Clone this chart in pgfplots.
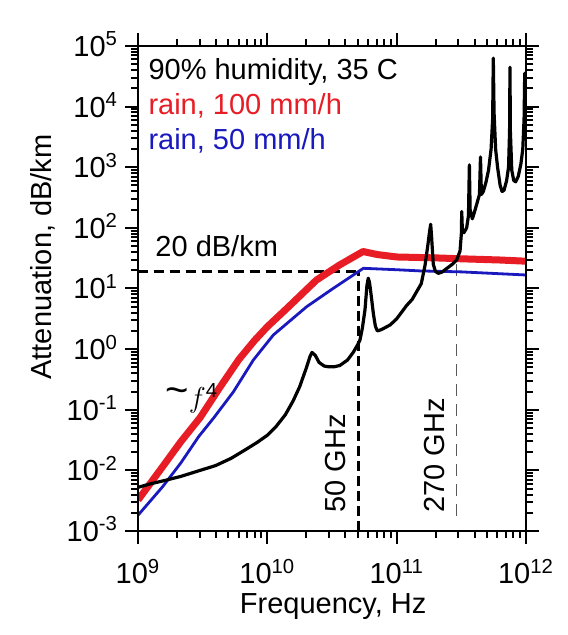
\documentclass[border=0pt]{standalone}
\usepackage{fontspec}
\setmainfont{Liberation Sans}
\usepackage{pgfplots}
\pgfplotsset{compat=1.18}
\definecolor{cred}{RGB}{232,28,36}
\definecolor{cblue}{RGB}{25,25,190}
\newcommand{\lbl}{\fontsize{14.5}{17}\selectfont}
\begin{document}
\begin{tikzpicture}
\begin{axis}[
  at={(0pt,0pt)}, anchor=south west,
  scale only axis, width=194pt, height=242.5pt,
  xmode=log, ymode=log,
  xmin=1e9, xmax=1e12, ymin=1e-3, ymax=1e5,
  tick align=outside,
  major tick length=6.5pt, minor tick length=3.5pt,
  tick style={black, line width=1pt},
  xtick={1e9,1e10,1e11,1e12},
  xticklabels={10\textsuperscript{9},10\textsuperscript{10},10\textsuperscript{11},10\textsuperscript{12}},
  minor xtick={2e9,3e9,4e9,5e9,6e9,7e9,8e9,9e9,2e10,3e10,4e10,5e10,6e10,7e10,8e10,9e10,2e11,3e11,4e11,5e11,6e11,7e11,8e11,9e11},
  ytick={1e-3,1e-2,1e-1,1,1e1,1e2,1e3,1e4,1e5},
  yticklabels={10\textsuperscript{-3},10\textsuperscript{-2},10\textsuperscript{-1},10\textsuperscript{0},10\textsuperscript{1},10\textsuperscript{2},10\textsuperscript{3},10\textsuperscript{4},10\textsuperscript{5}},
  minor ytick={2e-3,3e-3,4e-3,5e-3,6e-3,7e-3,8e-3,9e-3,2e-2,3e-2,4e-2,5e-2,6e-2,7e-2,8e-2,9e-2,0.2,0.3,0.4,0.5,0.6,0.7,0.8,0.9,2,3,4,5,6,7,8,9,20,30,40,50,60,70,80,90,200,300,400,500,600,700,800,900,2e3,3e3,4e3,5e3,6e3,7e3,8e3,9e3,2e4,3e4,4e4,5e4,6e4,7e4,8e4,9e4},
  tick label style={font=\lbl},
  xticklabel style={anchor=base, yshift=-20pt},
  yticklabel style={anchor=base east, yshift=-5.2pt},
  xlabel={Frequency, Hz},
  xlabel style={font=\lbl, at={(axis description cs:0.503,-0.171)}, anchor=base, inner sep=0pt},
  ylabel={Attenuation, dB/km},
  ylabel style={font=\lbl, at={(axis description cs:-0.224,0.565)}, anchor=base, inner sep=0pt},
]
% dashed guides
\addplot[black, line width=1.2pt, dash pattern=on 5pt off 3pt] coordinates {(1e9,19) (5.05e10,19)};
\addplot[black, line width=1.2pt, dash pattern=on 5pt off 2.5pt] coordinates {(5.05e10,1e-3) (5.05e10,19)};
\addplot[black!65, line width=0.7pt, dash pattern=on 6pt off 4pt] coordinates {(2.9e11,1.8e-3) (2.9e11,33)};
% rain 100 mm/h
\addplot[cred, line width=3.5pt, line join=round] coordinates {
(1e9,3.24e-3) (1.549e9,1.148e-2) (2.138e9,2.951e-2) (3.020e9,7.413e-2) (4.266e9,0.2291)
(6.026e9,0.6761) (7.943e9,1.380) (1e10,2.344) (1.413e10,4.677) (2.399e10,13.80)
(3.631e10,24.55) (5.495e10,40.74) (7.079e10,36.31) (1e11,33.11) (1.995e11,32.0)
(3.162e11,30.9) (6.310e11,29.5) (1e12,28.2)};
% rain 50 mm/h
\addplot[cblue, line width=1.4pt, line join=round] coordinates {
(1e9,1.82e-3) (1.549e9,5.37e-3) (2.138e9,1.318e-2) (2.951e9,3.631e-2) (3.828e9,7.228e-2)
(5.470e9,0.1982) (7.798e9,0.6622) (1.112e10,1.710) (2.014e10,5.012) (3.236e10,10.07)
(5.521e10,21.53) (1e11,20.4) (1.514e11,19.5) (3.162e11,18.8) (1e12,16.7)};
% humidity
\addplot[black, line width=1.6pt, line join=round] coordinates {
(1e9,5.25e-3) (1.259e9,6.03e-3) (1.585e9,6.76e-3) (2.138e9,7.94e-3) (2.818e9,9.55e-3)
(3.981e9,1.20e-2) (5.248e9,1.58e-2) (6.761e9,2.19e-2) (8.318e9,2.88e-2) (1e10,3.80e-2)
(1.175e10,5.37e-2) (1.380e10,8.32e-2) (1.585e10,0.141) (1.778e10,0.240) (1.995e10,0.479)
(2.138e10,0.759) (2.213e10,0.881) (2.344e10,0.794) (2.512e10,0.603) (2.754e10,0.525)
(2.951e10,0.513) (3.311e10,0.513) (3.631e10,0.537) (4.169e10,0.661) (4.624e10,0.891)
(5.012e10,1.20) (5.200e10,1.41) (5.433e10,2.24) (5.689e10,4.47) (5.888e10,11.2)
(6.026e10,14.8) (6.166e10,12.6) (6.383e10,7.08) (6.607e10,3.80) (6.839e10,2.40)
(7.079e10,2.00) (7.586e10,2.09) (8.913e10,2.51) (1e11,3.16) (1.194e11,5.25)
(1.318e11,6.61) (1.429e11,8.91) (1.549e11,12.0) (1.656e11,24.0) (1.738e11,50.1)
(1.799e11,89.1) (1.832e11,115) (1.862e11,70.8) (1.919e11,25.1) (1.995e11,19.1)
(2.099e11,17.8) (2.239e11,18.6) (2.438e11,21.4) (2.692e11,25.1) (2.911e11,29.5)
(3.090e11,41.7) (3.162e11,79.4) (3.184e11,186) (3.221e11,89.1) (3.311e11,83.2)
(3.475e11,100) (3.589e11,158) (3.648e11,1096) (3.698e11,200) (3.846e11,141)
(3.981e11,178) (4.169e11,251) (4.365e11,355) (4.446e11,1479) (4.519e11,355)
(4.677e11,398) (4.898e11,562) (5.129e11,891) (5.370e11,1995) (5.521e11,6310)
(5.585e11,63100) (5.662e11,7943) (5.821e11,1995) (6.026e11,1000) (6.310e11,501)
(6.531e11,398) (6.761e11,417) (7.079e11,603) (7.328e11,1000) (7.464e11,3981)
(7.516e11,44670) (7.568e11,3981) (7.762e11,891) (8.035e11,603) (8.318e11,575)
(8.710e11,708) (9.120e11,1122) (9.441e11,1995) (9.661e11,6310) (9.772e11,35480)
(9.886e11,7943) (1e12,7079)};
% texts inside the box
\node[anchor=base west, inner sep=0pt, font=\lbl] at (rel axis cs:0.026,0.931) {90\% humidity, 35 C};
\node[anchor=base west, inner sep=0pt, font=\lbl, text=cred] at (rel axis cs:0.026,0.858) {rain, 100 mm/h};
\node[anchor=base west, inner sep=0pt, font=\lbl, text=cblue] at (rel axis cs:0.026,0.786) {rain, 50 mm/h};
\node[anchor=base west, inner sep=0pt, font=\lbl] at (rel axis cs:0.044,0.566) {20 dB/km};
\node[anchor=base west, inner sep=0pt, font=\lbl] at (rel axis cs:0.07,0.254) {\raisebox{2pt}{\fontsize{20}{20}\selectfont\textasciitilde}$f$\textsuperscript{4}};
\node[anchor=base west, inner sep=0pt, font=\lbl, rotate=90] at (rel axis cs:0.536,0.037) {50 GHz};
\node[anchor=base west, inner sep=0pt, font=\lbl, rotate=90] at (rel axis cs:0.789,0.037) {270 GHz};
\end{axis}
% frame and outward log ticks (1 decade = 64.6667pt in x, 30.3125pt in y)
\draw[line width=1pt] (0pt,0pt) rectangle (194pt,242.5pt);
\foreach \d in {0,1,2,3} {
  \draw[line width=1pt] ({\d*64.6667pt},0pt) -- ++(0pt,-6.5pt);
  \draw[line width=1pt] ({\d*64.6667pt},242.5pt) -- ++(0pt,6.5pt);
}
\foreach \d in {0,1,2} {
  \foreach \k in {2,...,9} {
    \draw[line width=0.9pt] ({(\d+log10(\k))*64.6667pt},0pt) -- ++(0pt,-3.5pt);
    \draw[line width=0.9pt] ({(\d+log10(\k))*64.6667pt},242.5pt) -- ++(0pt,3.5pt);
  }
}
\foreach \d in {0,...,8} {
  \draw[line width=1pt] (0pt,{\d*30.3125pt}) -- ++(-6.5pt,0pt);
  \draw[line width=1pt] (194pt,{\d*30.3125pt}) -- ++(6.5pt,0pt);
}
\foreach \d in {0,...,7} {
  \foreach \k in {2,...,9} {
    \draw[line width=0.9pt] (0pt,{(\d+log10(\k))*30.3125pt}) -- ++(-3.5pt,0pt);
    \draw[line width=0.9pt] (194pt,{(\d+log10(\k))*30.3125pt}) -- ++(3.5pt,0pt);
  }
}
\path (-69pt,-52pt) rectangle (214.5pt,265.5pt);
\end{tikzpicture}
\end{document}
